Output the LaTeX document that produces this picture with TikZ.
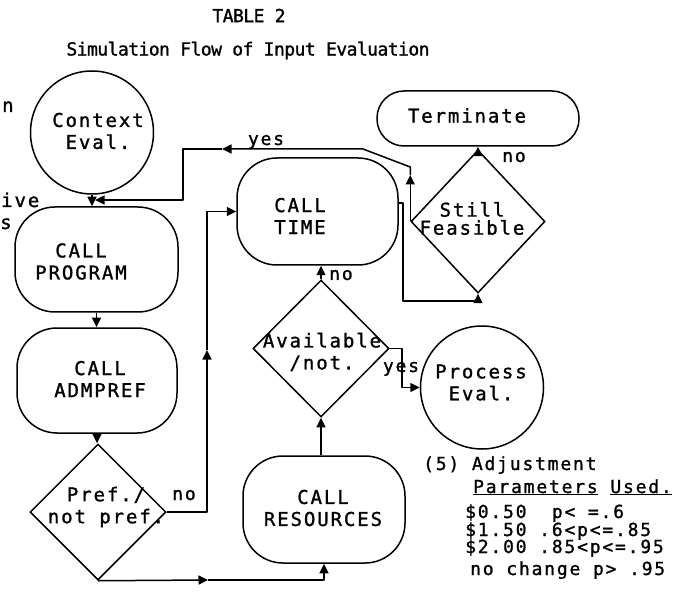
\documentclass[tikz,border=0pt]{standalone}
\usepackage{fontspec}
\usetikzlibrary{shapes.geometric,arrows.meta}
\newfontfamily\tyfont[LetterSpace=-3,FakeBold=1.2]{DejaVu Sans Mono}
\newfontfamily\tyspaced[LetterSpace=10,FakeBold=1.2]{DejaVu Sans Mono}
\tikzset{
  flow/.style={line width=1.5pt, line join=round},
  arr/.style={flow, -{Triangle[length=9.5pt,width=9pt]}},
  box/.style={draw, line width=1.5pt, rectangle, rounded corners=40pt, inner sep=0pt},
  decision/.style={draw, line width=1.5pt, diamond, inner sep=0pt},
  terminal/.style={draw, line width=1.5pt, circle, inner sep=0pt, minimum size=123pt},
  txt/.style={font=\tyspaced\fontsize{19}{22}\selectfont, align=center, inner sep=0pt},
  lbl/.style={font=\tyspaced\fontsize{18}{22}\selectfont, inner sep=0pt},
  title/.style={font=\tyfont\fontsize{18}{20}\selectfont, inner sep=0pt},
}
\begin{document}
\begin{tikzpicture}[x=1pt,y=-1pt]
\fill[white] (0,0) rectangle (674,593);
\useasboundingbox (0,0) rectangle (674,593);

% heading
\node[title] (t1) at (249,15.5) {TABLE 2};
\node[title] (t2) at (248,50.5) {Simulation Flow of Input Evaluation};

% fragments of the left margin text
\node[txt, anchor=base west] (m1) at (2,112) {n};
\node[txt, anchor=base west] (m2) at (1,207) {ive};
\node[txt, anchor=base west] (m3) at (0,229) {s};

% shapes
\node[terminal] (ctx) at (92,132.5) {};
\node[txt] (ctxt) at (98,131) {Context\\Eval.};

\node[box, minimum width=163pt, minimum height=105pt] (prog) at (96.5,259.5) {};
\node[txt] (progt) at (81,261.5) {CALL\\PROGRAM};

\node[box, minimum width=160pt, minimum height=105pt] (adm) at (97,380.5) {};
\node[txt] (admt) at (100,379) {CALL\\ADMPREF};

\node[decision, minimum width=136pt, minimum height=136pt] (pref) at (98,512) {};
\node[txt] (preft) at (106,507) {Pref./\\not pref.};

\node[box, minimum width=161pt, minimum height=107pt] (time) at (317.5,211.5) {};
\node[txt] (timet) at (300,216) {CALL\\TIME};

\node[decision, minimum width=136pt, minimum height=137pt] (avail) at (321,348.5) {};
\node[txt] (availt) at (322,352) {Available\\/not.};

\node[box, minimum width=162pt, minimum height=107pt] (res) at (324,509.5) {};
\node[txt] (rest) at (323,508) {CALL\\RESOURCES};

\node[box, rounded corners=27pt, minimum width=202pt, minimum height=55pt] (term) at (478,118.5) {};
\node[txt] (termt) at (467,115.5) {Terminate};

\node[decision, minimum width=134pt, minimum height=143pt] (still) at (478,221.5) {};
\node[txt, font=\tyspaced\fontsize{19}{18}\selectfont] (stillt) at (472,218.5) {Still\\Feasible};

\node[terminal] (proc) at (482,387.5) {};
\node[txt] (proct) at (481,382.5) {Process\\Eval.};

% bend points
\coordinate (noup) at (207,350);
\coordinate (botmid) at (208,580);
\coordinate (loopc) at (403,301);
\coordinate (yesup) at (411,175);
\coordinate (yeskink) at (363,149);
\coordinate (yesleft) at (222,149);
\coordinate (yesdrop) at (183,149);
\coordinate (yesend) at (95,200);

% connectors
\draw[arr] (ctx.south) -- (ctx.south |- prog.north);
\draw[arr] (prog.south) -- (prog.south |- adm.north);
\draw[arr] (adm.south) -- (adm.south |- pref.north);

\draw[arr] (pref.east) -| (noup);
\draw[arr] (noup) |- (time.west);

\draw[arr] (pref.south) -- (botmid);
\draw[arr] (botmid) -| (res.south);

\draw[arr] (avail.south |- res.north) -- (avail.south);
\draw[arr] (avail.north) -- (avail.north |- time.south);
\draw[arr] (avail.east) -- ++(12,0) |- (proc.west);

\draw[arr] ([yshift=8.5pt]time.east) -| (loopc) -| (still.south);
\draw[arr] ([yshift=-6pt]still.north) -- (still.north |- term.south);

\draw[arr] (still.west) -- (still.west |- yesup);
\draw[arr] (still.west |- yesup) -- (still.west |- 0,167) -- (yeskink) -- (yesleft);
\draw[arr] (yesleft) -- (yesdrop) |- (yesend);

% branch labels
\node[lbl, anchor=base] (ly1) at (266,145) {yes};
\node[lbl, anchor=base] (ln1) at (514,162) {no};
\node[lbl, anchor=base] (ln2) at (341,280) {no};
\node[lbl, anchor=base] (ly2) at (401,372) {yes};
\node[lbl, anchor=base] (ln3) at (184,500) {no};

% adjustment notes
\node[lbl, anchor=base west] (n1) at (423,470) {(5) Adjustment};
\node[lbl, anchor=base west] (n2) at (473,493) {\underline{Parameters} \underline{Used.}};
\node[lbl, anchor=base west] (n3) at (465,518) {\$0.50~~p<~=.6};
\node[lbl, anchor=base west] (n4) at (465,536) {\$1.50 .6<p<=.85};
\node[lbl, anchor=base west] (n5) at (465,553) {\$2.00 .85<p<=.95};
\node[lbl, anchor=base west] (n6) at (470,575) {no change p> .95};
\end{tikzpicture}
\end{document}
